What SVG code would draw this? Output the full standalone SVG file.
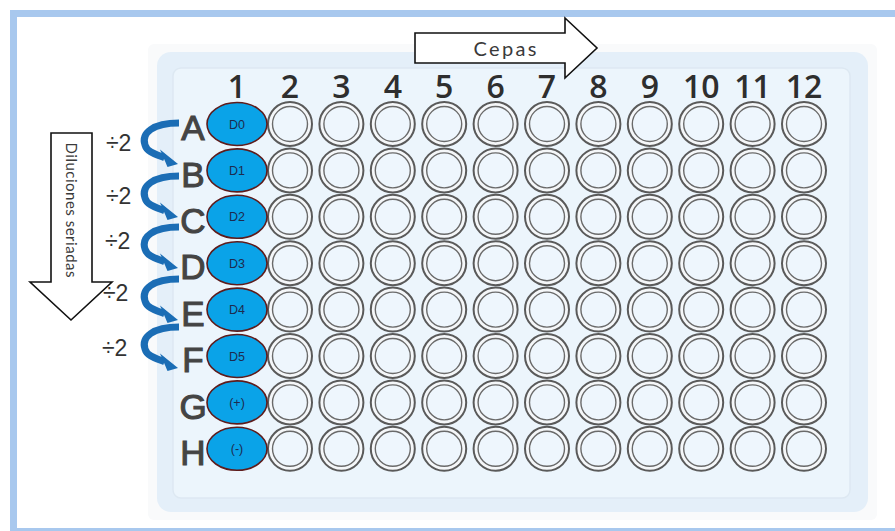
<svg xmlns="http://www.w3.org/2000/svg" xmlns:xlink="http://www.w3.org/1999/xlink" width="895" height="531" viewBox="0 0 895 531">
<style>
.well-o{fill:#f5f7f9;stroke:#5a5a5a;stroke-width:2}
.well-i{fill:#eef6fd;stroke:#6a6a6a;stroke-width:1.4}
.dil{fill:#0aa3e8;stroke:#5e1c1c;stroke-width:1.6}
.dlab{font-family:"Liberation Sans",Arial,sans-serif;font-size:12.5px;fill:#1d2b4f;text-anchor:middle}
.col{font-family:"Open Sans","Liberation Sans",sans-serif;font-weight:600;font-size:32px;fill:#2e2e2e;text-anchor:middle}
.row{font-family:"Liberation Sans",Arial,sans-serif;font-size:35px;fill:#444;stroke:#444;stroke-width:1.1;text-anchor:middle}
.div{font-family:"Liberation Sans",Arial,sans-serif;font-size:23px;fill:#333}
.big{fill:#fff;stroke:#111;stroke-width:1.6;stroke-linejoin:miter}
.lbl{font-family:Lato,"Liberation Sans",sans-serif;fill:#3a3a3a}
.curve{fill:none;stroke:#1b6db5;stroke-width:7}
.head{fill:#1b6db5}
</style>
<defs>
<g id="curl">
<path class="curve" d="M4,0 C-22,0 -34,10 -30,22 C-28,29 -20,31 -10.5,34.7"/>
<polygon class="head" points="3,41 -15,26.5 -7.5,44"/>
</g>
<g id="well">
<circle class="well-o" r="22"/>
<circle class="well-i" r="17.5"/>
</g>
</defs>
<rect x="0" y="0" width="895" height="531" fill="#fff"/>
<rect x="13.5" y="13.5" width="1000" height="518" fill="none" stroke="#a8c8ee" stroke-width="7"/>
<g id="plate">
<rect x="148" y="44" width="729" height="476" rx="6" fill="#f9fafb"/>
<rect x="157" y="52" width="711" height="460" rx="14" fill="#e4eff9"/>
<rect x="173" y="68" width="677" height="430" rx="8" fill="#ecf5fc" stroke="#dde8f2" stroke-width="1.5"/>
</g>
<g id="column-labels">
<text class="col" x="237" y="98">1</text>
<text class="col" x="290" y="98">2</text>
<text class="col" x="341.4" y="98">3</text>
<text class="col" x="392.8" y="98">4</text>
<text class="col" x="444.2" y="98">5</text>
<text class="col" x="495.6" y="98">6</text>
<text class="col" x="547" y="98">7</text>
<text class="col" x="598.4" y="98">8</text>
<text class="col" x="649.8" y="98">9</text>
<text class="col" x="701.2" y="98">10</text>
<text class="col" x="752.6" y="98">11</text>
<text class="col" x="804" y="98">12</text>
</g>
<g id="row-labels">
<text class="row" x="193" y="140">A</text>
<text class="row" x="193" y="187">B</text>
<text class="row" x="193" y="233">C</text>
<text class="row" x="193" y="279">D</text>
<text class="row" x="193" y="326">E</text>
<text class="row" x="193" y="372">F</text>
<text class="row" x="193" y="419">G</text>
<text class="row" x="193" y="465">H</text>
</g>
<g id="wells">
<g id="row-A" transform="translate(0,124)"><use xlink:href="#well" x="290"/><use xlink:href="#well" x="341.4"/><use xlink:href="#well" x="392.8"/><use xlink:href="#well" x="444.2"/><use xlink:href="#well" x="495.6"/><use xlink:href="#well" x="547"/><use xlink:href="#well" x="598.4"/><use xlink:href="#well" x="649.8"/><use xlink:href="#well" x="701.2"/><use xlink:href="#well" x="752.6"/><use xlink:href="#well" x="804"/></g>
<g id="row-B" transform="translate(0,170.4)"><use xlink:href="#well" x="290"/><use xlink:href="#well" x="341.4"/><use xlink:href="#well" x="392.8"/><use xlink:href="#well" x="444.2"/><use xlink:href="#well" x="495.6"/><use xlink:href="#well" x="547"/><use xlink:href="#well" x="598.4"/><use xlink:href="#well" x="649.8"/><use xlink:href="#well" x="701.2"/><use xlink:href="#well" x="752.6"/><use xlink:href="#well" x="804"/></g>
<g id="row-C" transform="translate(0,216.8)"><use xlink:href="#well" x="290"/><use xlink:href="#well" x="341.4"/><use xlink:href="#well" x="392.8"/><use xlink:href="#well" x="444.2"/><use xlink:href="#well" x="495.6"/><use xlink:href="#well" x="547"/><use xlink:href="#well" x="598.4"/><use xlink:href="#well" x="649.8"/><use xlink:href="#well" x="701.2"/><use xlink:href="#well" x="752.6"/><use xlink:href="#well" x="804"/></g>
<g id="row-D" transform="translate(0,263.2)"><use xlink:href="#well" x="290"/><use xlink:href="#well" x="341.4"/><use xlink:href="#well" x="392.8"/><use xlink:href="#well" x="444.2"/><use xlink:href="#well" x="495.6"/><use xlink:href="#well" x="547"/><use xlink:href="#well" x="598.4"/><use xlink:href="#well" x="649.8"/><use xlink:href="#well" x="701.2"/><use xlink:href="#well" x="752.6"/><use xlink:href="#well" x="804"/></g>
<g id="row-E" transform="translate(0,309.6)"><use xlink:href="#well" x="290"/><use xlink:href="#well" x="341.4"/><use xlink:href="#well" x="392.8"/><use xlink:href="#well" x="444.2"/><use xlink:href="#well" x="495.6"/><use xlink:href="#well" x="547"/><use xlink:href="#well" x="598.4"/><use xlink:href="#well" x="649.8"/><use xlink:href="#well" x="701.2"/><use xlink:href="#well" x="752.6"/><use xlink:href="#well" x="804"/></g>
<g id="row-F" transform="translate(0,356)"><use xlink:href="#well" x="290"/><use xlink:href="#well" x="341.4"/><use xlink:href="#well" x="392.8"/><use xlink:href="#well" x="444.2"/><use xlink:href="#well" x="495.6"/><use xlink:href="#well" x="547"/><use xlink:href="#well" x="598.4"/><use xlink:href="#well" x="649.8"/><use xlink:href="#well" x="701.2"/><use xlink:href="#well" x="752.6"/><use xlink:href="#well" x="804"/></g>
<g id="row-G" transform="translate(0,402.4)"><use xlink:href="#well" x="290"/><use xlink:href="#well" x="341.4"/><use xlink:href="#well" x="392.8"/><use xlink:href="#well" x="444.2"/><use xlink:href="#well" x="495.6"/><use xlink:href="#well" x="547"/><use xlink:href="#well" x="598.4"/><use xlink:href="#well" x="649.8"/><use xlink:href="#well" x="701.2"/><use xlink:href="#well" x="752.6"/><use xlink:href="#well" x="804"/></g>
<g id="row-H" transform="translate(0,448.8)"><use xlink:href="#well" x="290"/><use xlink:href="#well" x="341.4"/><use xlink:href="#well" x="392.8"/><use xlink:href="#well" x="444.2"/><use xlink:href="#well" x="495.6"/><use xlink:href="#well" x="547"/><use xlink:href="#well" x="598.4"/><use xlink:href="#well" x="649.8"/><use xlink:href="#well" x="701.2"/><use xlink:href="#well" x="752.6"/><use xlink:href="#well" x="804"/></g>
</g>
<g id="dilution-wells">
<g id="D0"><ellipse class="dil" cx="237" cy="124" rx="30" ry="21.5"/><text class="dlab" x="237" y="128.5">D0</text></g>
<g id="D1"><ellipse class="dil" cx="237" cy="170.4" rx="30" ry="21.5"/><text class="dlab" x="237" y="174.9">D1</text></g>
<g id="D2"><ellipse class="dil" cx="237" cy="216.8" rx="30" ry="21.5"/><text class="dlab" x="237" y="221.3">D2</text></g>
<g id="D3"><ellipse class="dil" cx="237" cy="263.2" rx="30" ry="21.5"/><text class="dlab" x="237" y="267.7">D3</text></g>
<g id="D4"><ellipse class="dil" cx="237" cy="309.6" rx="30" ry="21.5"/><text class="dlab" x="237" y="314.1">D4</text></g>
<g id="D5"><ellipse class="dil" cx="237" cy="356" rx="30" ry="21.5"/><text class="dlab" x="237" y="360.5">D5</text></g>
<g id="pos"><ellipse class="dil" cx="237" cy="402.4" rx="30" ry="21.5"/><text class="dlab" x="237" y="406.9">(+)</text></g>
<g id="neg"><ellipse class="dil" cx="237" cy="448.8" rx="30" ry="21.5"/><text class="dlab" x="237" y="453.3">(-)</text></g>
</g>
<g id="cepas-arrow">
<polygon class="big" points="415,33 565,33 565,18 597,48 565,78 565,63 415,63"/>
<text class="lbl" x="505" y="56" font-size="20" text-anchor="middle" textLength="63" lengthAdjust="spacing">Cepas</text>
</g>
<g id="diluciones-arrow">
<polygon class="big" points="51,133 92,133 92,282 112,282 71,320 30,282 51,282"/>
<text class="lbl" transform="translate(71,210) rotate(90)" x="0" y="5" font-size="15" text-anchor="middle" textLength="135" lengthAdjust="spacing">Diluciones seriadas</text>
</g>
<g id="connectors">
<use xlink:href="#curl" x="175" y="123"/>
<use xlink:href="#curl" x="175" y="176"/>
<use xlink:href="#curl" x="175" y="227"/>
<use xlink:href="#curl" x="175" y="279"/>
<use xlink:href="#curl" x="175" y="327"/>
</g>
<g id="factors">
<text class="div" x="106" y="151">÷2</text>
<text class="div" x="106" y="204">÷2</text>
<text class="div" x="105" y="249">÷2</text>
<text class="div" x="103" y="301">÷2</text>
<text class="div" x="102" y="356">÷2</text>
</g>
</svg>
